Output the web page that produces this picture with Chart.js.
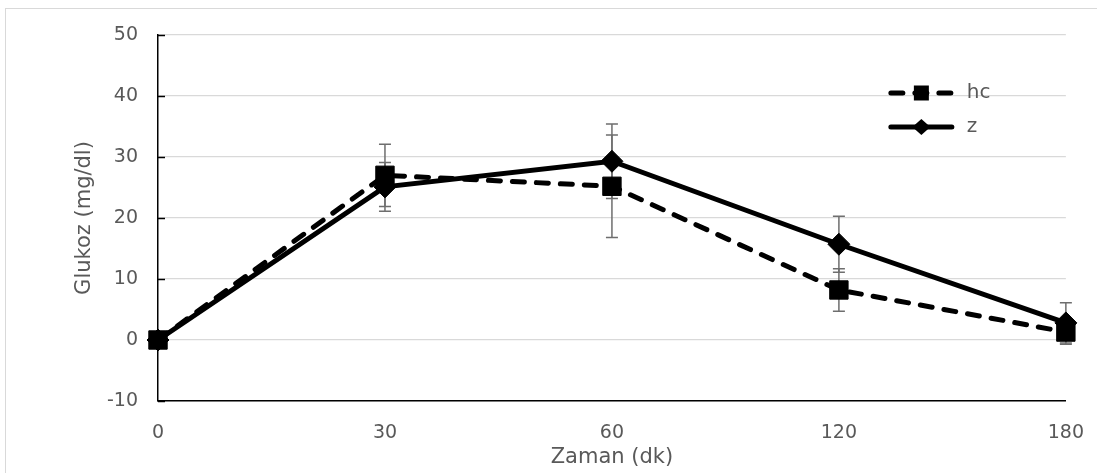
<!DOCTYPE html>
<html>
<head>
<meta charset="utf-8">
<script src="https://cdn.jsdelivr.net/npm/chart.js@4.4.1/dist/chart.umd.min.js"></script>
<style>
  html, body { margin: 0; padding: 0; background: #fff; }
</style>
</head>
<body>
<canvas id="glukoz" width="1097" height="473"></canvas>
<script>
// zaman noktalari (dk) ve ortalama glukoz degisimi
const zaman = ['0', '30', '60', '120', '180'];
const hc = [0, 27.0, 25.2, 8.2, 1.3];
const hcHata = [0, 5.1, 8.4, 3.5, 2.0];
const z = [0, 25.1, 29.3, 15.7, 2.8];
const zHata = [0, 4.0, 6.1, 4.6, 3.3];
const yTikler = [-10, 0, 10, 20, 30, 40, 50];

const hatalar = [hcHata, zHata];
const yaziRengi = '#595959';
const yazi = 'DejaVu Sans';

// dis cerceve
const cerceve = {
  id: 'cerceve',
  beforeDraw(chart) {
    const ctx = chart.ctx;
    ctx.save();
    ctx.strokeStyle = '#d9d9d9';
    ctx.lineWidth = 1;
    ctx.strokeRect(5.5, 8.5, chart.width + 10, chart.height + 10);
    ctx.restore();
  }
};

// hata cubuklari + y eksenindeki ic tikler
const hataCubuklari = {
  id: 'hataCubuklari',
  beforeDatasetsDraw(chart) {
    const { ctx, chartArea, scales: { x, y } } = chart;
    ctx.save();
    ctx.strokeStyle = '#000';
    ctx.lineWidth = 1.5;
    y.ticks.forEach(t => {
      const py = Math.round(y.getPixelForValue(t.value)) + 0.5;
      ctx.beginPath();
      ctx.moveTo(chartArea.left, py);
      ctx.lineTo(chartArea.left + 7, py);
      ctx.stroke();
    });

    ctx.strokeStyle = '#6e6e6e';
    chart.data.datasets.forEach((ds, di) => {
      hatalar[di].forEach((e, i) => {
        if (!e) return;
        const px = x.getPixelForValue(i);
        const ust = y.getPixelForValue(ds.data[i] + e);
        const alt = y.getPixelForValue(ds.data[i] - e);
        ctx.beginPath();
        ctx.moveTo(px, ust); ctx.lineTo(px, alt);
        ctx.moveTo(px - 6, ust); ctx.lineTo(px + 6, ust);
        ctx.moveTo(px - 6, alt); ctx.lineTo(px + 6, alt);
        ctx.stroke();
      });
    });
    ctx.restore();
  }
};

// grafik icinde sag ustte gosterge
const gosterge = {
  id: 'gosterge',
  afterDraw(chart) {
    const { ctx, chartArea } = chart;
    const x0 = chartArea.right - 177, x1 = chartArea.right - 112;
    const mx = (x0 + x1) / 2;
    ctx.save();
    chart.data.datasets.forEach((ds, i) => {
      const yy = chartArea.top + 58 + i * 34;
      ctx.strokeStyle = '#000';
      ctx.fillStyle = '#000';
      ctx.lineWidth = ds.borderWidth;
      ctx.lineCap = 'round';
      ctx.setLineDash(ds.borderDash || []);
      ctx.beginPath();
      ctx.moveTo(x0 + 2, yy);
      ctx.lineTo(x1 - 2, yy);
      ctx.stroke();
      ctx.setLineDash([]);
      ctx.beginPath();
      if (ds.pointStyle === 'rect') {
        ctx.rect(mx - 7.5, yy - 7.5, 15, 15);
      } else {
        ctx.moveTo(mx, yy - 8);
        ctx.lineTo(mx + 9, yy);
        ctx.lineTo(mx, yy + 8);
        ctx.lineTo(mx - 9, yy);
        ctx.closePath();
      }
      ctx.fill();
      ctx.fillStyle = yaziRengi;
      ctx.font = '20px "' + yazi + '"';
      ctx.textBaseline = 'middle';
      ctx.textAlign = 'left';
      ctx.fillText(ds.label, x1 + 13, yy);
    });
    ctx.restore();
  }
};

const ortak = {
  borderColor: '#000',
  backgroundColor: '#000',
  pointBackgroundColor: '#000',
  pointBorderColor: '#000',
  pointBorderWidth: 1,
  borderWidth: 5,
  borderCapStyle: 'round',
  tension: 0,
  clip: false
};

new Chart(document.getElementById('glukoz'), {
  type: 'line',
  data: {
    labels: zaman,
    datasets: [
      Object.assign({ label: 'hc', data: hc, borderDash: [12, 12], pointStyle: 'rect', pointRadius: 13, order: 1 }, ortak),
      Object.assign({ label: 'z', data: z, pointStyle: 'rectRot', pointRadius: 11, order: 0 }, ortak)
    ]
  },
  options: {
    responsive: false,
    animation: false,
    layout: { padding: { top: 35, right: 25, bottom: 0, left: 0 } },
    plugins: {
      legend: { display: false },
      tooltip: { enabled: false }
    },
    scales: {
      x: {
        grid: { display: false },
        border: { color: '#000', width: 1.5 },
        ticks: { color: yaziRengi, font: { family: yazi, size: 19 }, padding: 13, maxRotation: 0, autoSkip: false },
        title: { display: true, text: 'Zaman (dk)', color: yaziRengi, font: { family: yazi, size: 21 }, padding: { top: 0, bottom: 3 } },
        afterFit(s) { s.height = 72; }
      },
      y: {
        min: yTikler[0],
        max: yTikler[yTikler.length - 1],
        grid: { color: '#d9d9d9', lineWidth: 1.3, drawTicks: false },
        border: { color: '#000', width: 1.5 },
        ticks: { stepSize: yTikler[1] - yTikler[0], color: yaziRengi, font: { family: yazi, size: 19 }, padding: 20 },
        title: { display: true, text: 'Glukoz (mg/dl)', color: yaziRengi, font: { family: yazi, size: 21 }, padding: { top: 72, bottom: 0 } },
        afterFit(s) { s.width = 158; }
      }
    }
  },
  plugins: [cerceve, hataCubuklari, gosterge]
});
</script>
</body>
</html>
